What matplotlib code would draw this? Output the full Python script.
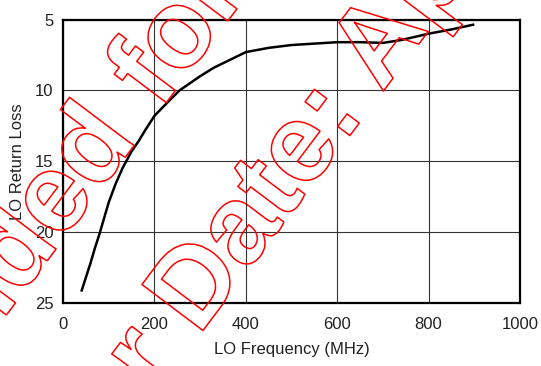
import matplotlib
matplotlib.use("Agg")
import matplotlib.pyplot as plt
import matplotlib.patheffects as pe

# LO return loss curve
freq_mhz = [40, 50, 60, 70, 80, 90, 100, 115, 130, 150, 165, 180, 200, 215,
            230, 255, 300, 330, 400, 450, 500, 550, 600, 650, 700, 740, 800,
            850, 900]
return_loss = [24.2, 23.2, 22.2, 21.1, 20.1, 19.0, 17.9, 16.6, 15.5, 14.3,
               13.6, 12.8, 11.8, 11.3, 10.8, 10.0, 9.0, 8.4, 7.3, 7.0, 6.8,
               6.7, 6.6, 6.6, 6.65, 6.45, 6.0, 5.7, 5.35]

xticks = [0, 200, 400, 600, 800, 1000]
yticks = [5, 10, 15, 20, 25]

# watermark, split where it is pinned to the page
wm_line1 = ("Not Recommended", "for New Designs")
wm_line2 = ("Last Order", "Date: April 2005")

plt.rcParams["font.family"] = ["Liberation Sans", "DejaVu Sans"]

fig = plt.figure(figsize=(5.41, 3.66), dpi=100)
ax = fig.add_axes([0.1165, 0.1721, 0.8447, 0.7746])

ax.plot(freq_mhz, return_loss, color="black", lw=1.8, solid_capstyle="butt")
ax.set_xlim(0, 1000)
ax.set_ylim(25, 5)
ax.set_xticks(xticks)
ax.set_yticks(yticks)
ax.tick_params(length=0, labelsize=12, colors="#222222")
ax.tick_params(axis="x", pad=10)
ax.tick_params(axis="y", pad=7)
ax.grid(True, color="#333333", lw=0.8)
for s in ax.spines.values():
    s.set_linewidth(1.6)
ax.set_xlabel("LO Frequency (MHz)", fontsize=12, color="#222222", labelpad=7)
ax.set_ylabel("LO Return Loss", fontsize=12, color="#222222", labelpad=7)

# red outlined watermark on top of everything
wm = dict(rotation=53, rotation_mode="anchor", va="baseline", fontsize=80,
          fontweight="bold", family="Liberation Sans", color="none",
          path_effects=[pe.Stroke(linewidth=1.1, foreground="red")])
fig.text(0.2556, 0.6175, wm_line1[0], ha="right", **wm)
fig.text(0.2957, 0.6967, wm_line1[1], ha="left", **wm)
fig.text(0.3323, 0.0131, wm_line2[0], ha="right", **wm)
fig.text(0.3669, 0.0808, wm_line2[1], ha="left", **wm)

fig.savefig("out.png", dpi=100)
